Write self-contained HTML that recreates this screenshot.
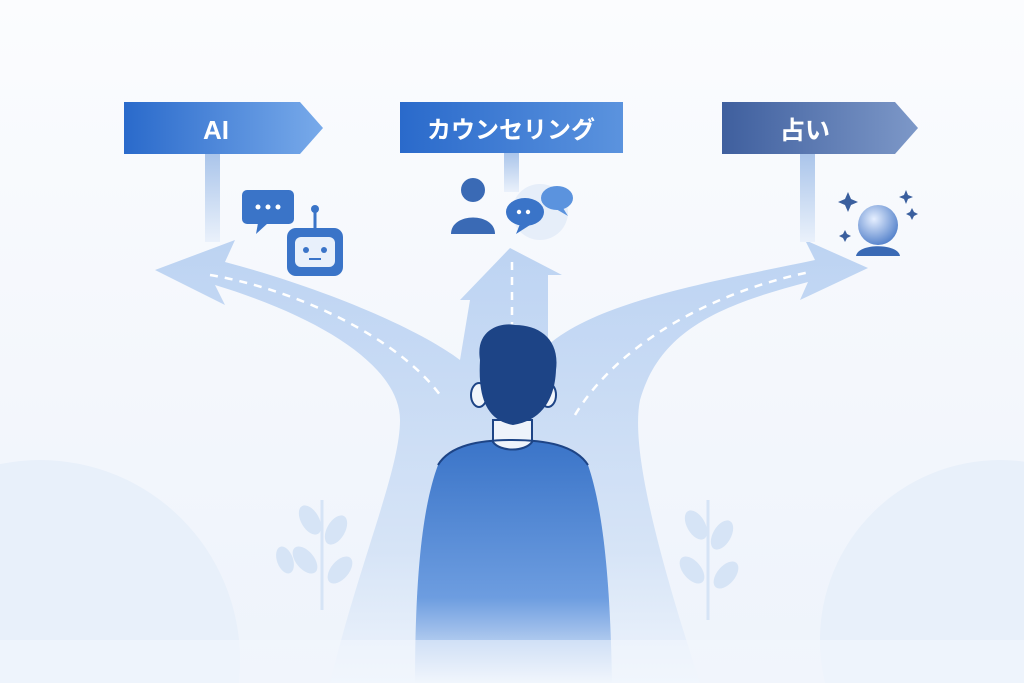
<!DOCTYPE html>
<html><head><meta charset="utf-8"><style>
html,body{margin:0;padding:0;width:1024px;height:683px;overflow:hidden;background:#f7f9fd;}
svg{position:absolute;left:0;top:0;display:block}
text{font-family:"Liberation Sans","Noto Sans CJK JP",sans-serif;font-weight:bold;fill:#fff}
</style></head><body>
<svg width="1024" height="683" viewBox="0 0 1024 683" xmlns="http://www.w3.org/2000/svg">
<defs>
<linearGradient id="bg" x1="0" y1="0" x2="0" y2="1"><stop offset="0" stop-color="#fbfcfe"/><stop offset="1" stop-color="#eef3fb"/></linearGradient>
<linearGradient id="sA" x1="0" x2="1"><stop offset="0" stop-color="#2a6acb"/><stop offset="1" stop-color="#78aaea"/></linearGradient>
<linearGradient id="sB" x1="0" x2="1"><stop offset="0" stop-color="#2a6acb"/><stop offset="1" stop-color="#5b93de"/></linearGradient>
<linearGradient id="sC" x1="0" x2="1"><stop offset="0" stop-color="#3f5f9e"/><stop offset="1" stop-color="#7d98c8"/></linearGradient>
<linearGradient id="pole" x1="0" y1="0" x2="0" y2="1"><stop offset="0" stop-color="#a9c4ea"/><stop offset="1" stop-color="#eaf1fb"/></linearGradient>
<linearGradient id="road" x1="0" y1="0" x2="0" y2="1"><stop offset="0" stop-color="#b6cff1"/><stop offset="0.7" stop-color="#d3e2f6"/><stop offset="1" stop-color="#eef4fc"/></linearGradient>
<linearGradient id="body" x1="0" y1="0" x2="0" y2="1"><stop offset="0" stop-color="#3a74c8"/><stop offset="0.65" stop-color="#6d9de0"/><stop offset="1" stop-color="#eef4fc"/></linearGradient>
<radialGradient id="ball" cx="0.4" cy="0.35" r="0.7"><stop offset="0" stop-color="#e6efff"/><stop offset="1" stop-color="#4f7ec9"/></radialGradient>
</defs>
<rect width="1024" height="683" fill="url(#bg)"/>
<circle cx="40" cy="660" r="200" fill="#e8f0fa"/>
<circle cx="1000" cy="640" r="180" fill="#e8f0fa"/>
<path d="M330 683 C360 560 400 470 400 420 C400 370 330 320 215 285 L225 305 L155 270 L235 240 L225 262 C330 290 420 330 460 360 L470 300 L460 300 L510 248 L562 275 L548 275 L548 345 C600 300 720 280 815 260 L805 240 L868 268 L800 300 L808 282 C720 305 660 330 640 400 C630 450 660 560 700 683 Z" fill="url(#road)" opacity="0.9"/>
<path d="M210 275 C300 290 400 340 440 395" stroke="#fff" stroke-width="2.5" stroke-dasharray="8 7" fill="none"/>
<path d="M512 262 L512 330" stroke="#fff" stroke-width="2.5" stroke-dasharray="8 7" fill="none"/>
<path d="M575 415 C620 340 720 290 810 272" stroke="#fff" stroke-width="2.5" stroke-dasharray="8 7" fill="none"/>
<rect x="205" y="152" width="15" height="90" fill="url(#pole)"/>
<rect x="504" y="152" width="15" height="40" fill="url(#pole)"/>
<rect x="800" y="152" width="15" height="90" fill="url(#pole)"/>
<path d="M124 102 H300 L323 128 L300 154 H124 Z" fill="url(#sA)"/>
<text x="216" y="139" font-size="26" text-anchor="middle">AI</text>
<rect x="400" y="102" width="223" height="51" fill="url(#sB)"/>
<text x="511" y="138" font-size="24" text-anchor="middle">カウンセリング</text>
<path d="M722 102 H895 L918 128 L895 154 H722 Z" fill="url(#sC)"/>
<text x="805" y="139" font-size="25" text-anchor="middle">占い</text>
<rect x="242" y="190" width="52" height="34" rx="5" fill="#3a74c8"/>
<path d="M258 223 L256 234 L268 223Z" fill="#3a74c8"/>
<circle cx="258" cy="207" r="2.5" fill="#fff"/><circle cx="268" cy="207" r="2.5" fill="#fff"/><circle cx="278" cy="207" r="2.5" fill="#fff"/>
<line x1="315" y1="212" x2="315" y2="228" stroke="#3a74c8" stroke-width="3"/><circle cx="315" cy="209" r="4" fill="#3a74c8"/>
<rect x="287" y="228" width="56" height="48" rx="9" fill="#3a74c8"/>
<rect x="295" y="237" width="40" height="30" rx="6" fill="#e8f0fb"/>
<circle cx="306" cy="250" r="3" fill="#3a74c8"/><circle cx="324" cy="250" r="3" fill="#3a74c8"/>
<rect x="309" y="258" width="12" height="2" fill="#3a74c8"/>
<circle cx="473" cy="190" r="12" fill="#3a6ab5"/>
<path d="M451 234 C451 212 495 212 495 234 Z" fill="#3a6ab5"/>
<circle cx="540" cy="212" r="28" fill="#e6eef9"/>
<ellipse cx="525" cy="212" rx="19" ry="14" fill="#3a74c8"/>
<path d="M520 224 L516 234 L530 225Z" fill="#3a74c8"/>
<circle cx="519" cy="212" r="2.2" fill="#fff"/><circle cx="528" cy="212" r="2.2" fill="#fff"/>
<ellipse cx="557" cy="198" rx="16" ry="12" fill="#5b93de"/>
<path d="M563 208 L568 216 L556 209Z" fill="#5b93de"/>
<circle cx="878" cy="225" r="20" fill="url(#ball)"/>
<path d="M856 256 C858 243 898 243 900 256 Z" fill="#3a6ab5"/>
<path d="M848 192 l3 7 l7 3 l-7 3 l-3 7 l-3 -7 l-7 -3 l7 -3z" fill="#3a5f9e"/>
<path d="M906 190 l2 5 l5 2 l-5 2 l-2 5 l-2 -5 l-5 -2 l5 -2z" fill="#3a5f9e"/>
<path d="M912 208 l2 4 l4 2 l-4 2 l-2 4 l-2 -4 l-4 -2 l4 -2z" fill="#3a5f9e"/>
<path d="M845 230 l2 4 l4 2 l-4 2 l-2 4 l-2 -4 l-4 -2 l4 -2z" fill="#3a5f9e"/>
<g fill="#d6e4f6">
<path d="M322 610 L322 500" stroke="#d6e4f6" stroke-width="3"/>
<ellipse cx="310" cy="520" rx="9" ry="16" transform="rotate(-30 310 520)"/><ellipse cx="336" cy="530" rx="9" ry="16" transform="rotate(30 336 530)"/>
<ellipse cx="305" cy="560" rx="9" ry="16" transform="rotate(-40 305 560)"/><ellipse cx="340" cy="570" rx="9" ry="16" transform="rotate(40 340 570)"/>
<ellipse cx="285" cy="560" rx="8" ry="14" transform="rotate(-20 285 560)"/>
<path d="M708 620 L708 500" stroke="#d6e4f6" stroke-width="3"/>
<ellipse cx="696" cy="525" rx="9" ry="16" transform="rotate(-30 696 525)"/><ellipse cx="722" cy="535" rx="9" ry="16" transform="rotate(30 722 535)"/>
<ellipse cx="692" cy="570" rx="9" ry="16" transform="rotate(-40 692 570)"/><ellipse cx="726" cy="575" rx="9" ry="16" transform="rotate(40 726 575)"/>
</g>
<path d="M438 465 C450 445 480 440 512 440 C545 440 575 445 588 465 C600 500 610 560 612 683 L415 683 C415 560 425 500 438 465 Z" fill="url(#body)"/>
<path d="M493 420 L493 442 C500 452 525 452 532 442 L532 420 Z" fill="#eef3fb" stroke="#1d4486" stroke-width="2"/>
<ellipse cx="479" cy="395" rx="8" ry="12" fill="#f1f5fb" stroke="#1d4486" stroke-width="2"/>
<ellipse cx="548" cy="395" rx="8" ry="12" fill="#f1f5fb" stroke="#1d4486" stroke-width="2"/>
<path d="M480 360 C475 330 500 322 515 325 C540 325 560 340 556 370 C555 395 545 420 513 425 C485 420 478 395 480 360 Z" fill="#1d4486"/>
<path d="M438 465 C450 445 480 440 512 440 C545 440 575 445 588 465" fill="none" stroke="#1d4486" stroke-width="2"/>
<rect x="0" y="640" width="1024" height="43" fill="#f4f8fd" opacity="0.5"/>
</svg>
</body></html>
